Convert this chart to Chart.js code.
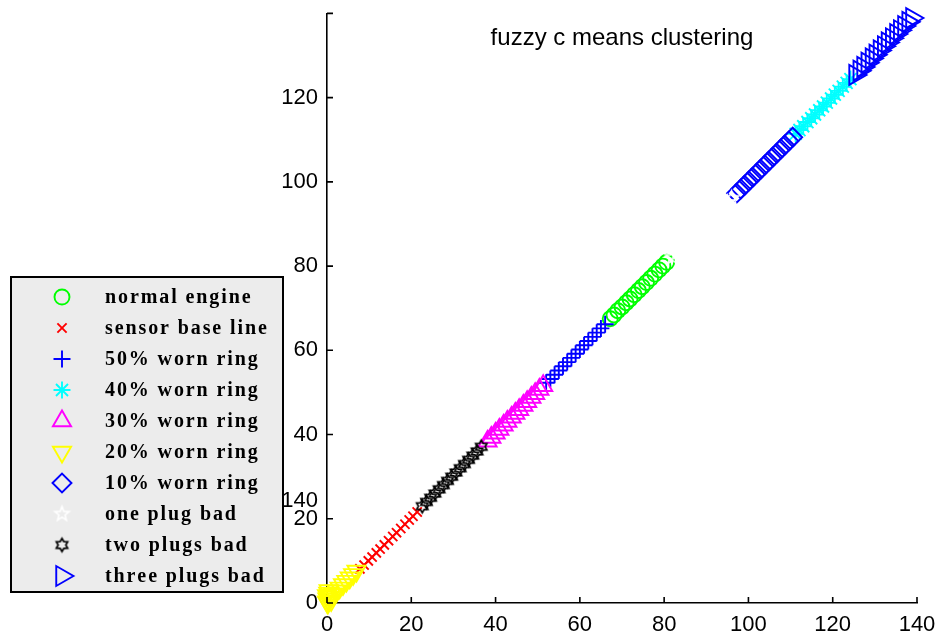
<!DOCTYPE html>
<html><head><meta charset="utf-8">
<script src="https://cdn.jsdelivr.net/npm/chart.js@4/dist/chart.umd.min.js"></script>
<style>html,body{margin:0;padding:0;background:#fff;}#wrap{width:942px;height:643px;}</style>
</head><body><div id="wrap"><canvas id="c" width="942" height="643"></canvas></div>
<script>
const titleText = 'fuzzy c means clustering';
const seriesNames = ['normal engine','sensor base line','50% worn ring','40% worn ring','30% worn ring','20% worn ring','10% worn ring','one plug bad','two plugs bad','three plugs bad'];
const xTickValues = [0,20,40,60,80,100,120,140];
const yTickLabels = ['0','20','40','60','80','100','120',''];

const normalX = [67.2,68.1,69.0,70.0,71.0,71.9,72.9,73.9,74.8,75.8,76.8,77.8,78.8,79.7,80.6];
const normalY = [67.5,68.4,69.4,70.3,71.3,72.2,73.2,74.2,75.1,76.1,77.1,78.1,79.1,80.0,80.9];
const sensorX = [7.8,8.8,9.8,10.7,11.7,12.6,13.6,14.6,15.6,16.5,17.5,18.5,19.5,20.4,21.4];
const sensorY = [8.1,9.0,10.0,10.9,11.9,12.8,13.8,14.8,15.8,16.7,17.7,18.7,19.7,20.6,21.6];
const worn50X = [52.0,53.0,54.0,55.0,56.0,57.0,58.0,59.0,60.0,61.0,62.0,63.0,64.0,65.0,66.0];
const worn50Y = [52.3,53.2,54.2,55.2,56.2,57.2,58.2,59.2,60.2,61.2,62.2,63.2,64.2,65.2,66.2];
const worn40X = [111.2,112.1,113.0,114.0,114.9,115.8,116.8,117.7,118.6,119.6,120.5,121.4,122.4,123.3,124.2];
const worn40Y = [111.4,112.3,113.2,114.2,115.1,116.0,117.0,117.9,118.8,119.8,120.7,121.6,122.6,123.5,124.4];
const worn30X = [38.1,39.0,40.0,40.9,41.9,42.8,43.8,44.7,45.6,46.6,47.5,48.5,49.4,50.4,51.3];
const worn30Y = [38.4,39.3,40.3,41.2,42.2,43.1,44.1,45.0,45.9,46.9,47.8,48.8,49.7,50.7,51.6];
const worn20X = [0.0,0.1,0.0,0.3,0.2,0.6,1.0,0.4,0.8,1.5,2.3,3.0,3.8,4.6,5.4,6.2,7.0];
const worn20Y = [0.3,1.0,1.8,2.4,0.0,1.4,0.6,3.0,2.0,2.2,2.9,3.6,4.4,5.2,6.0,6.8,7.6];
const worn10X = [97.2,98.2,99.1,100.1,101.0,102.0,102.9,103.9,104.8,105.8,106.7,107.7,108.6,109.6,110.5];
const worn10Y = [97.3,98.3,99.2,100.2,101.1,102.1,103.0,104.0,104.9,105.9,106.8,107.8,108.7,109.7,110.6];
const onePlugX = [82.0,83.0,84.0,85.0,86.0,87.0,88.0,89.0,90.0,91.0,92.0,93.0,94.0,95.0,96.0];
const onePlugY = [82.1,83.1,84.1,85.1,86.1,87.1,88.1,89.1,90.1,91.1,92.1,93.1,94.1,95.1,96.1];
const twoPlugsX = [22.6,23.6,24.6,25.6,26.6,27.6,28.6,29.6,30.6,31.6,32.6,33.6,34.6,35.6,36.6];
const twoPlugsY = [23.0,24.0,25.0,26.0,27.0,28.0,29.0,30.0,31.0,32.0,33.0,34.0,35.0,36.0,37.1];
const threePlugsX = [125.3,126.3,127.2,128.2,129.2,130.1,131.1,132.1,133.0,134.0,135.0,135.9,136.9,137.9,138.8];
const threePlugsY = [125.4,126.4,127.3,128.3,129.3,130.2,131.2,132.2,133.1,134.1,135.1,136.0,137.0,138.0,138.9];

function starCanvas(points, outer, inner, color, lw){
  const s = Math.ceil(outer*2+lw*2+2);
  const cv = document.createElement('canvas'); cv.width = s; cv.height = s;
  const c = cv.getContext('2d');
  c.strokeStyle = color; c.lineWidth = lw; c.lineJoin='miter';
  c.beginPath();
  for (let i=0;i<points*2;i++){
    const r = i%2===0?outer:inner;
    const a = -Math.PI/2 + i*Math.PI/points;
    const px = s/2 + r*Math.cos(a), py = s/2 + r*Math.sin(a);
    if(i===0) c.moveTo(px,py); else c.lineTo(px,py);
  }
  c.closePath(); c.stroke();
  return cv;
}
const pentagram = starCanvas(5, 7.5, 3.2, '#ffffff', 1.6);
const hexagram = starCanvas(6, 6.5, 3.8, '#000000', 1.7);

const pts = (xs, ys) => xs.map((x,i)=>({x:x, y:ys[i]}));
const specs = [
  {xs:normalX, ys:normalY, color:'#00ff00', style:'circle', r:7.5, rot:0},
  {xs:sensorX, ys:sensorY, color:'#ff0000', style:'crossRot', r:6.5, rot:0},
  {xs:worn50X, ys:worn50Y, color:'#0000ff', style:'cross', r:8.5, rot:0},
  {xs:worn40X, ys:worn40Y, color:'#00ffff', style:'star', r:8.5, rot:0},
  {xs:worn30X, ys:worn30Y, color:'#ff00ff', style:'triangle', r:10.5, rot:0},
  {xs:worn20X, ys:worn20Y, color:'#ffff00', style:'triangle', r:10.5, rot:180},
  {xs:worn10X, ys:worn10Y, color:'#0000ff', style:'rectRot', r:9.5, rot:0},
  {xs:onePlugX, ys:onePlugY, color:'#ffffff', style:pentagram, r:7, rot:0},
  {xs:twoPlugsX, ys:twoPlugsY, color:'#000000', style:hexagram, r:6, rot:0},
  {xs:threePlugsX, ys:threePlugsY, color:'#0000ff', style:'triangle', r:11.5, rot:90}
];
const datasets = specs.map((s,i)=>({
  label: seriesNames[i], data: pts(s.xs, s.ys), showLine:false, clip:false,
  pointStyle: s.style, pointRadius: s.r, pointHoverRadius: s.r, pointRotation: s.rot,
  borderColor: s.color, backgroundColor:'rgba(0,0,0,0)', pointBorderWidth:1.9,
  order: 20 - i
}));

function drawMarker(ctx, s, x, y){
  ctx.save();
  ctx.strokeStyle = s.color; ctx.fillStyle='rgba(0,0,0,0)'; ctx.lineWidth = 1.9;
  if (typeof s.style !== 'string') { ctx.drawImage(s.style, x - s.style.width/2, y - s.style.height/2); ctx.restore(); return; }
  if (Chart.helpers && Chart.helpers.drawPoint) {
    Chart.helpers.drawPoint(ctx, {pointStyle:s.style, radius:s.r, rotation:s.rot, borderWidth:1.9}, x, y);
  }
  ctx.restore();
}

const decor = {
  id:'decor',
  afterDraw(chart){
    const ctx = chart.ctx, a = chart.chartArea;
    const xs = chart.scales.x, ys = chart.scales.y;
    ctx.save();
    ctx.strokeStyle = '#000'; ctx.lineWidth = 1.6;
    ctx.beginPath();
    xTickValues.forEach(v=>{ const p = xs.getPixelForValue(v); ctx.moveTo(p, a.bottom); ctx.lineTo(p, a.bottom-6); });
    xTickValues.forEach(v=>{ const p = ys.getPixelForValue(v); ctx.moveTo(a.left, p); ctx.lineTo(a.left+6, p); });
    ctx.stroke();
    // title
    ctx.fillStyle = '#000'; ctx.font = '24px "Liberation Sans", Arial, sans-serif';
    ctx.textAlign = 'center'; ctx.textBaseline = 'middle';
    ctx.fillText(titleText, (a.left + a.right)/2, 38);
    // stray label
    ctx.font = '22px "Liberation Sans", Arial, sans-serif';
    ctx.textAlign = 'right';
    ctx.fillText('140', 318, 501);
    // legend box
    ctx.fillStyle = '#ececec';
    ctx.fillRect(11, 277, 272, 315);
    ctx.strokeStyle = '#000'; ctx.lineWidth = 2;
    ctx.strokeRect(11, 277, 272, 315);
    ctx.font = 'bold 20px "Liberation Serif", "Times New Roman", serif';
    ctx.textAlign = 'left'; ctx.textBaseline = 'middle';
    specs.forEach((s,i)=>{
      const yy = 297 + i*31;
      drawMarker(ctx, s, 62, yy);
      ctx.fillStyle = '#000';
      let xx = 105;
      for (const ch of seriesNames[i]) { ctx.fillText(ch, xx, yy+1); xx += ctx.measureText(ch).width + 1.9; }
    });
    ctx.restore();
  }
};

new Chart(document.getElementById('c'), {
  type:'scatter',
  data:{datasets:datasets},
  options:{
    responsive:false, animation:false, devicePixelRatio:1,
    layout:{padding:{left:0, top:12.5, right:25, bottom:0}},
    plugins:{legend:{display:false}, tooltip:{enabled:false}, title:{display:false}},
    scales:{
      x:{type:'linear', min:0, max:140,
         afterFit:(s)=>{s.height=40; s.paddingLeft=0; s.paddingRight=0;},
         afterBuildTicks:(s)=>{ s.ticks = xTickValues.map(v=>({value:v})); },
         ticks:{color:'#000', padding:9, maxRotation:0, font:{family:'"Liberation Sans", Arial, sans-serif', size:22}, callback:(v)=>String(v)},
         grid:{drawOnChartArea:false, drawTicks:false}, border:{display:true, color:'#000', width:1.6}},
      y:{type:'linear', min:0, max:140,
         afterFit:(s)=>{s.width=327; s.paddingTop=0; s.paddingBottom=0;},
         afterBuildTicks:(s)=>{ s.ticks = xTickValues.map(v=>({value:v})); },
         ticks:{color:'#000', padding:9, font:{family:'"Liberation Sans", Arial, sans-serif', size:22}, callback:(v,i)=>yTickLabels[i]},
         grid:{drawOnChartArea:false, drawTicks:false}, border:{display:true, color:'#000', width:1.6}}
    }
  },
  plugins:[decor]
});
</script></body></html>
